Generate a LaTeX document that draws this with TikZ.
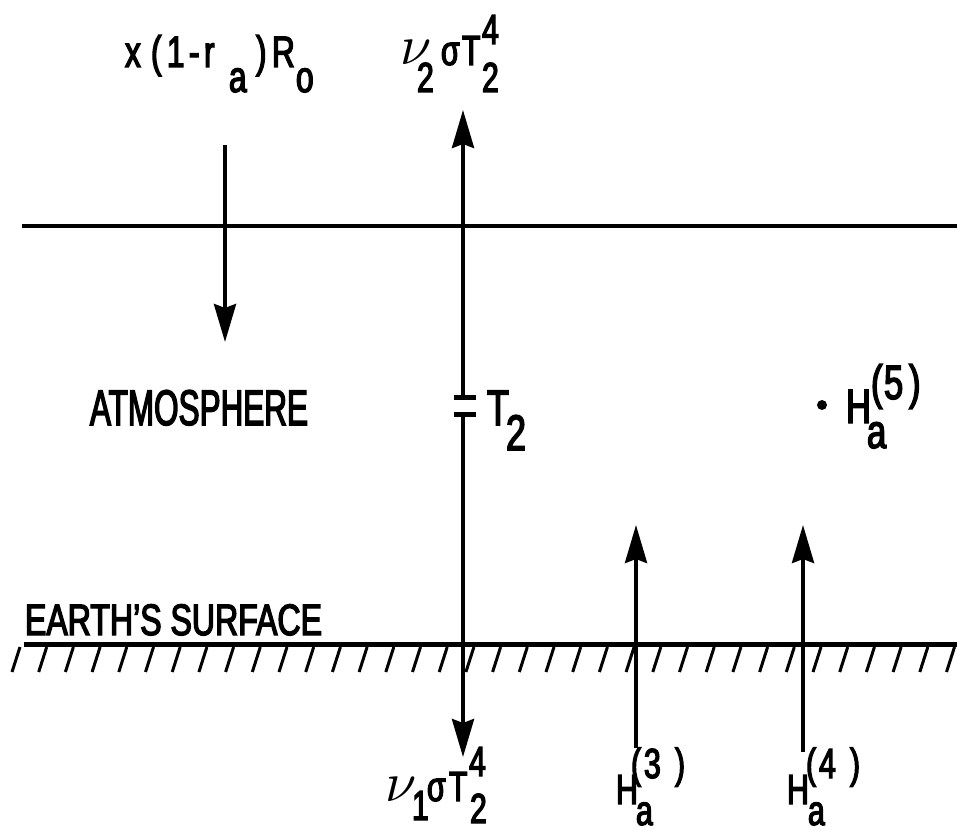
\documentclass[tikz,border=0pt]{standalone}
\usepackage{fontspec}
\setmainfont{Liberation Sans}[FakeStretch=0.72,FakeBold=3]
\usetikzlibrary{arrows.meta}
\newcommand\gl[3]{\makebox[0pt][l]{\hspace*{#1}\raisebox{#2}{#3}}}
\newcommand\fs[1]{\fontsize{#1}{#1}\selectfont}
\newcommand\nuu{\scalebox{5.6}{\fontsize{10}{12}\selectfont$\nu$}}
\tikzset{
  lbl/.style={inner sep=0pt, outer sep=0pt, anchor=base west},
  arr/.style={line width=4pt, -{Stealth[length=38pt,width=22pt,inset=4pt]}},
  rule/.style={line width=4pt},
  hatch/.style={line width=3pt},
  bar/.style={line width=5pt}
}
\begin{document}
\begin{tikzpicture}[x=1pt,y=-1pt]
\useasboundingbox (0,0) rectangle (957,834);
% horizontal lines
\coordinate (tl) at (22,226);
\coordinate (tr) at (957,226);
\draw[rule] (tl) -- (tr);
\coordinate (sl) at (24,644);
\coordinate (sr) at (957,644);
\draw[line width=5pt] (sl) -- (sr);
\foreach \i in {0,...,35} {
  \draw[hatch] ({12+26.7*\i},672) -- ({20+26.7*\i},647);
}
% arrows
\coordinate (la) at (225,145);
\coordinate (lb) at (225,342);
\draw[arr] (la) -- (lb);
\coordinate (mu0) at (463,397);
\coordinate (mu1) at (463,110);
\draw[arr] (mu0) -- (mu1);
\coordinate (md0) at (463,415);
\coordinate (md1) at (463,757);
\draw[arr] (md0) -- (md1);
\coordinate (b1a) at (454,397.5);
\coordinate (b1b) at (476,397.5);
\draw[bar] (b1a) -- (b1b);
\coordinate (b2a) at (454,414.5);
\coordinate (b2b) at (476,414.5);
\draw[bar] (b2a) -- (b2b);
\coordinate (h3a) at (636,748);
\coordinate (h3b) at (636,525);
\draw[arr] (h3a) -- (h3b);
\coordinate (h4a) at (803,752);
\coordinate (h4b) at (803,525);
\draw[arr] (h4a) -- (h4b);
\node[circle, fill, inner sep=0pt, minimum size=10pt] (dot) at (822,405) {};
% labels
\node[lbl] (atm) at (90,425) {\fs{50}\resizebox{218pt}{\height}{ATMOSPHERE}};
\node[lbl] (earth) at (25,635) {\fs{44}\resizebox{297pt}{\height}{EARTH’S SURFACE}};
\node[lbl] (l1) at (125,67) {\fs{44}\gl{0pt}{0pt}{x}\gl{26pt}{0pt}{(}\gl{42pt}{0pt}{1}\gl{64pt}{0pt}{-}\gl{79pt}{0pt}{r}\gl{104pt}{-25pt}{a}\gl{131pt}{0pt}{)}\gl{147pt}{0pt}{R}\gl{171pt}{-25pt}{o}\hspace*{188pt}};
\node[lbl] (l2) at (400,65) {\fs{42}\gl{0pt}{0pt}{\nuu}\gl{17pt}{-27pt}{2}\gl{41pt}{0pt}{σ}\gl{62pt}{0pt}{T}\gl{82pt}{21pt}{4}\gl{82pt}{-27pt}{2}\hspace*{100pt}};
\node[lbl] (l3) at (385,801) {\fs{42}\gl{0pt}{0pt}{\nuu}\gl{27pt}{-19pt}{1}\gl{42pt}{0pt}{σ}\gl{64pt}{0pt}{T}\gl{84pt}{25pt}{4}\gl{85pt}{-22pt}{2}\hspace*{102pt}};
\node[lbl] (t2) at (487,425) {\fs{50}\gl{0pt}{0pt}{T}\gl{19pt}{-25pt}{2}\hspace*{36pt}};
\node[lbl] (h5) at (846,423) {\fs{48}\gl{0pt}{0pt}{H}\gl{21pt}{-25pt}{a}\gl{25pt}{24pt}{(}\gl{38pt}{24pt}{5}\gl{63pt}{24pt}{)}\hspace*{74pt}};
\node[lbl] (h3) at (616,804) {\fs{42}\gl{0pt}{0pt}{H}\gl{20pt}{-21pt}{a}\gl{15pt}{26pt}{(}\gl{28pt}{26pt}{3}\gl{59pt}{26pt}{)}\hspace*{70pt}};
\node[lbl] (h4) at (787,804) {\fs{42}\gl{0pt}{0pt}{H}\gl{21pt}{-21pt}{a}\gl{19pt}{26pt}{(}\gl{32pt}{26pt}{4}\gl{63pt}{26pt}{)}\hspace*{74pt}};
\end{tikzpicture}
\end{document}
